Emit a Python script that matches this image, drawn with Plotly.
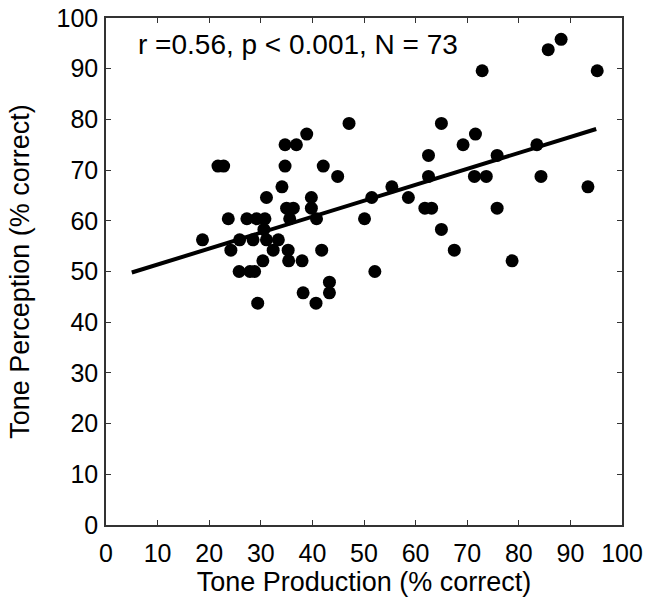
import plotly.graph_objects as go

# tone production (% correct) per participant
production = [18.7, 21.7, 22.8, 23.7, 24.2, 25.9, 25.8, 27.3, 27.9, 28.5,
              28.8, 29.2, 29.4, 30.8, 30.6, 31.1, 31.1, 30.4, 32.4, 33.4,
              34.1, 34.7, 34.7, 35.0, 36.3, 35.6, 35.3, 35.4, 36.9, 38.0,
              38.2, 38.9, 39.8, 39.8, 40.8, 40.7, 41.8, 42.1, 43.3, 43.3,
              44.9, 47.1, 50.1, 51.5, 52.1, 55.4, 58.6, 61.8, 63.1, 62.5,
              62.5, 65.0, 65.0, 67.5, 69.2, 71.6, 71.4, 73.7, 72.9, 75.8,
              75.8, 78.7, 83.5, 84.3, 85.7, 88.2, 93.4, 95.2]

# tone perception (% correct) per participant
perception = [56.25, 70.8, 70.8, 60.4, 54.2, 56.25, 50.0, 60.4, 50.0, 56.25,
              50.0, 60.4, 43.75, 60.4, 58.3, 56.25, 64.6, 52.1, 54.2, 56.25,
              66.7, 75.0, 70.8, 62.5, 62.5, 60.4, 54.2, 52.1, 75.0, 52.1,
              45.8, 77.1, 64.6, 62.5, 60.4, 43.75, 54.2, 70.8, 47.9, 45.8,
              68.75, 79.2, 60.4, 64.6, 50.0, 66.7, 64.6, 62.5, 62.5, 72.9,
              68.75, 79.2, 58.3, 54.2, 75.0, 77.1, 68.75, 68.75, 89.6, 72.9,
              62.5, 52.1, 75.0, 68.75, 93.75, 95.8, 66.7, 89.6]

# regression line endpoints
fit_x = [5, 95]
fit_y = [49.8, 78.1]

tick_vals = list(range(0, 101, 10))

FONT = "Liberation Sans, Arial, Helvetica, sans-serif"

fig = go.Figure()

fig.add_trace(go.Scatter(
    x=production, y=perception, mode="markers",
    marker=dict(size=13, color="black", line=dict(width=0)),
    showlegend=False
))

fig.add_trace(go.Scatter(
    x=fit_x, y=fit_y, mode="lines",
    line=dict(color="black", width=4),
    showlegend=False
))

fig.add_annotation(
    x=5.8, y=94.7, xref="x", yref="y",
    text="r =0.56, p < 0.001, N = 73",
    showarrow=False, xanchor="left", yanchor="middle",
    font=dict(family=FONT, size=28, color="black")
)

axis_style = dict(
    range=[0, 100], tickvals=tick_vals, automargin=False,
    showgrid=False, zeroline=False,
    showline=True, linecolor="#333333", linewidth=1.5, mirror="ticks",
    ticks="inside", ticklen=5, tickwidth=1.2, tickcolor="#333333",
    tickfont=dict(family=FONT, size=25, color="black"),
    ticklabeloverflow="allow",
)

fig.update_layout(
    width=654, height=611,
    margin=dict(l=106, r=32, t=18, b=86),
    paper_bgcolor="white", plot_bgcolor="white",
    xaxis=dict(axis_style, ticklabelstandoff=5,
               title=dict(text="Tone Production (% correct)",
                          font=dict(family=FONT, size=27, color="black"),
                          standoff=6)),
    yaxis=dict(axis_style, ticklabelstandoff=1,
               title=dict(text="Tone Perception (% correct)",
                          font=dict(family=FONT, size=27, color="black"),
                          standoff=19)),
)

# drop the default 8px body margin so the figure fills the window
fig.write_html("out.html", config={"displayModeBar": False},
               post_script="document.body.style.margin = '0';")
